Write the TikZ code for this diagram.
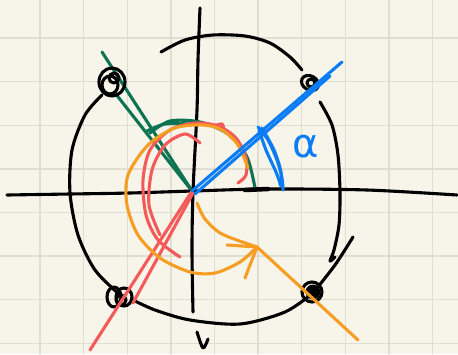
\documentclass[tikz,border=0pt]{standalone}
\usepackage{fontspec}
\setmainfont{DejaVu Sans}
\definecolor{paper}{HTML}{F7F5EA}
\definecolor{gridc}{HTML}{E0DED0}
\definecolor{pgreen}{HTML}{0E7352}
\definecolor{pblue}{HTML}{0A7CF5}
\definecolor{pred}{HTML}{F45A5A}
\definecolor{porange}{HTML}{F59E23}
\begin{document}
\begin{tikzpicture}[x=1pt,y=-1pt,line cap=round,line join=round,
  ink/.style={line width=3.1pt},
  gridline/.style={gridc,line width=1.4pt},
  blk/.style={ink,black},
  grn/.style={ink,pgreen},
  blu/.style={ink,pblue},
  rd/.style={ink,pred},
  org/.style={ink,porange}]
\fill[paper] (0,0) rectangle (458,354);
\useasboundingbox (0,0) rectangle (458,354);
% grid
\foreach \i in {0,...,9} {\draw[gridline] ({40+43.6*\i},0) -- ++(0,354);}
\foreach \i in {0,...,7} {\draw[gridline] (0,{38+43.6*\i}) -- ++(458,0);}
% green (under dots)
\coordinate (O) at (192,191);
\draw[grn] (102,52) -- (O);
\draw[grn] (115,93) -- (O);
% axes
\draw[blk] plot[smooth] coordinates {(7,195) (70,194) (130,193) (193,191) (267,189) (367,190) (457,195)};
\draw[blk] plot[smooth] coordinates {(200,8) (198,60) (197,110) (193,192) (192,250) (193,312)};
\draw[blk] plot[smooth] coordinates {(197,332) (203,348) (208,339)};
% outer curve
\draw[blk] plot[smooth] coordinates {(161,52) (185,40) (213,35) (245,36) (270,43) (290,57) (302,70)};
\draw[blk] plot[smooth] coordinates {(320,102) (332,125) (338,155) (340,193) (339,225) (334,250) (330,261) (335,257)};
\draw[blk] plot[smooth] coordinates {(353,237) (335,265) (313,293)};
\draw[blk] plot[smooth] coordinates {(313,293) (285,312) (240,324) (190,320) (155,310) (133,300)};
\draw[blk] plot[smooth] coordinates {(120,295) (95,270) (78,235) (70,193) (72,150) (85,115) (102,95)};
% dots
\draw[blk] (112,82) ellipse (13pt and 14pt);
\draw[blk] (110,85) ellipse (8pt and 9pt);
\draw[blk] (114,78) ellipse (5pt and 5pt);
\draw[blk,rotate around={-30:(310,83)}] (310,83) ellipse (9pt and 7pt);
\draw[blk] (311,83) circle (4pt);
\draw[blk] (114,297) ellipse (7pt and 10pt);
\draw[blk] (124,297) ellipse (8pt and 9pt);
\draw[blk] (121,300) circle (5pt);
\draw[blk] (312,292) circle (10pt);
\fill[black] (313,292) circle (7.5pt);
% green arc
\draw[grn] plot[smooth] coordinates {(150,133) (170,121) (200,122) (228,134) (247,157) (255,188)};
\draw[grn] plot[smooth] coordinates {(147,131) (165,124) (190,124)};
\draw[blk,line width=4.5pt] (245,190) -- (268,189);
% red
\draw[rd] (O) -- (90,350);
\draw[rd] (193,193) -- (133,303);
\draw[rd] plot[smooth] coordinates {(238,183) (246,175) (246,158) (236,138) (218,126) (195,123) (170,130) (150,150) (143,180) (146,215) (158,240) (180,257)};
\draw[rd] plot[smooth] coordinates {(200,143) (185,134) (165,145) (152,170) (149,205) (160,235)};
\draw[rd] plot[smooth] coordinates {(214,126) (222,124) (224,130)};
% orange
\draw[org] plot[smooth] coordinates {(248,168) (238,145) (222,130) (203,125) (175,128) (148,145) (128,175) (127,205) (138,235) (160,258) (190,272) (215,273) (240,262) (257,247)};
\draw[org] (227,245) -- (257,247) -- (245,278);
\draw[org] plot[smooth] coordinates {(197,203) (205,219) (222,234) (257,247)};
\draw[org] (257,247) -- (358,340);
% blue
\draw[blu] (O) -- (342,62);
\draw[blu] (195,194) -- (330,76);
\draw[blu] plot[smooth] coordinates {(258,127) (268,140) (277,160) (282,178) (283,190)};
\draw[blu] plot[smooth] coordinates {(262,128) (274,150) (281,172) (280,185)};
\draw[blu] plot[smooth] coordinates {(259,130) (266,150) (276,172) (281,186)};
\node[pblue,font=\fontsize{40}{40}\selectfont,inner sep=0pt] (alpha) at (306,147) {α};
\end{tikzpicture}
\end{document}
